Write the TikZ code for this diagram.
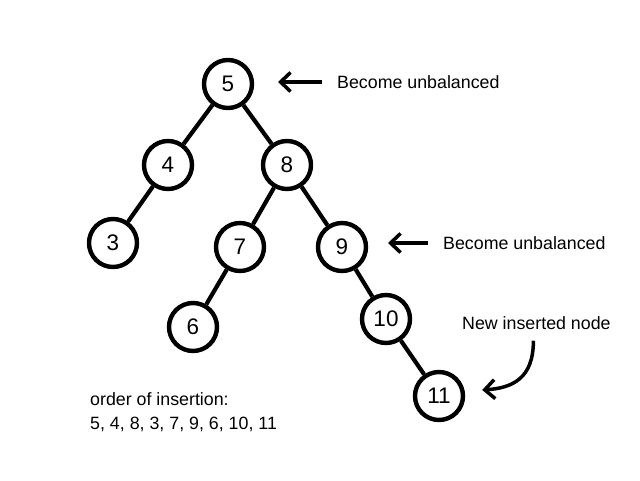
\documentclass[tikz,border=0pt]{standalone}
\usepackage{fontspec}
\setmainfont{Liberation Sans}
\usetikzlibrary{arrows.meta}

\begin{document}
\begin{tikzpicture}[x=1pt, y=-1pt,
		vert/.style={circle, draw, line width=4.4pt, minimum size=48pt, inner sep=0pt, font=\fontsize{22.5}{24}\selectfont},
		branch/.style={line width=4.2pt},
		note/.style={anchor=west, inner sep=0pt, font=\fontsize{17.8}{24}\selectfont},
		pointer/.style={line width=3.5pt, -{Straight Barb[length=10pt,width=19pt,line width=3.5pt]}}]
		\useasboundingbox (0,0) rectangle (640,480);

		\node[vert] (n5) at (228,84) {5};
		\node[vert] (n4) at (168,165) {4};
		\node[vert] (n8) at (287,165) {8};
		\node[vert] (n3) at (113,243) {3};
		\node[vert] (n7) at (240,247) {7};
		\node[vert] (n9) at (342,247) {9};
		\node[vert] (n6) at (193,327) {6};
		\node[vert] (n10) at (386,319) {10};
		\node[vert] (n11) at (439,396) {11};

		\draw[branch] (n5) -- (n4);
		\draw[branch] (n5) -- (n8);
		\draw[branch] (n4) -- (n3);
		\draw[branch] (n8) -- (n7);
		\draw[branch] (n8) -- (n9);
		\draw[branch] (n7) -- (n6);
		\draw[branch] (n9) -- (n10);
		\draw[branch] (n10) -- (n11);

		\node[note] (top) at (337,82) {Become unbalanced};
		\draw[pointer] ([xshift=-15pt]top.west) -- ++(-44,0);
		\node[note] (mid) at (443,243) {Become unbalanced};
		\draw[pointer] ([xshift=-15pt]mid.west) -- ++(-40,0);
		\node[note] (new) at (462,323) {New inserted node};
		\draw[pointer] ([xshift=-3pt,yshift=-11pt]new.south) .. controls +(0,38) and +(30,-2) .. ([xshift=17pt,yshift=6pt]n11.east);

		\node[note, align=left] (order) at (90,412) {order of insertion:\\5, 4, 8, 3, 7, 9, 6, 10, 11};
	\end{tikzpicture}
\end{document}
